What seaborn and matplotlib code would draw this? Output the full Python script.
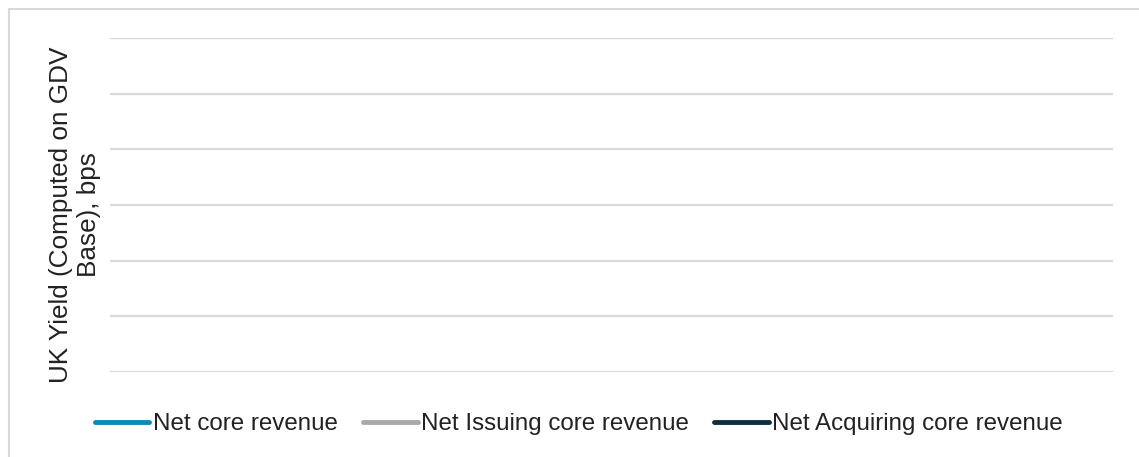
import matplotlib
matplotlib.use("Agg")
import matplotlib.pyplot as plt
from matplotlib.lines import Line2D
import seaborn as sns

# chart has no data points, only the series definitions
series_names = ["Net core revenue", "Net Issuing core revenue", "Net Acquiring core revenue"]
series_colors = ["#0a8ab8", "#a9a9a6", "#0c2e42"]
x_values = []
series_values = [[], [], []]
y_ticks = [0, 1, 2, 3, 4, 5, 6]
y_label = "UK Yield (Computed on GDV\nBase), bps"

sns.set_theme(style="white")
plt.rcParams["font.family"] = ["Liberation Sans", "DejaVu Sans"]

W, H = 1139, 457
fig = plt.figure(figsize=(W / 100, H / 100), dpi=100)
ax = fig.add_axes([110 / W, 1 - 372 / H, (1113 - 110) / W, (372 - 38) / H])

for name, color, vals in zip(series_names, series_colors, series_values):
    ax.plot(x_values, vals, color=color, lw=3, label=name, solid_capstyle="round")

ax.set_ylim(y_ticks[0], y_ticks[-1])
ax.set_xlim(0, 1)
ax.set_yticks(y_ticks)
ax.set_xticks([])
ax.yaxis.grid(True, color="#d9d9d9", lw=1.6)
ax.tick_params(left=False, labelleft=False)
for s in ax.spines.values():
    s.set_visible(False)

fig.text(75 / W, 1 - 215 / H, y_label, rotation=90, ha="center", va="center",
         multialignment="center", fontsize=18.8, color="#222222")

handles = [Line2D([0], [0], color=c, lw=3.5, solid_capstyle="round") for c in series_colors]
leg = fig.legend(handles, series_names, loc="center", bbox_to_anchor=(579 / W, 1 - 424 / H),
                 ncol=3, frameon=False, handlelength=2.25, handletextpad=0.15,
                 columnspacing=1.05, prop={"size": 17.4})
for t in leg.get_texts():
    t.set_color("#222222")

# outer border (top and left only)
fig.add_artist(Line2D([8.5 / W, 8.5 / W], [0, 1 - 8.5 / H], color="#d9d9d9", lw=1.5,
                      transform=fig.transFigure))
fig.add_artist(Line2D([8.5 / W, 1], [1 - 8.5 / H, 1 - 8.5 / H], color="#d9d9d9", lw=1.5,
                      transform=fig.transFigure))

fig.savefig("out.png", dpi=100)
